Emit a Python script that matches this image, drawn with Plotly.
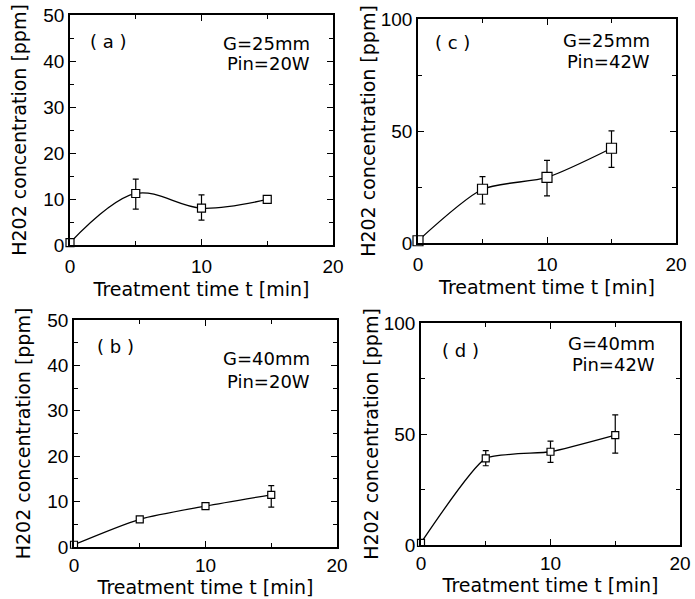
import plotly.graph_objects as go

# ---------------- data ----------------
t = [0, 5, 10, 15]

conc_a = [0.5, 11.2, 8.0, 9.9]
err_a_plus = [0, 3.1, 2.9, 0]
err_a_minus = [0, 3.4, 2.6, 0]

conc_b = [0.5, 6.1, 9.0, 11.5]
err_b_plus = [0, 0, 0, 2.0]
err_b_minus = [0, 0, 0, 2.7]

conc_c = [1.0, 24.0, 29.3, 42.3]
err_c_plus = [0, 5.6, 7.6, 7.8]
err_c_minus = [0, 6.6, 8.3, 8.5]

conc_d = [1.0, 39.0, 42.0, 49.5]
err_d_plus = [0, 3.5, 4.8, 9.1]
err_d_minus = [0, 3.3, 4.8, 8.1]

panel_labels = ["( a )", "( b )", "( c )", "( d )"]
gap_labels = ["G=25mm", "G=40mm", "G=25mm", "G=40mm"]
power_labels = ["Pin=20W", "Pin=20W", "Pin=42W", "Pin=42W"]
y_max = [50, 50, 100, 100]
x_title = "Treatment time t [min]"
y_title = "H202 concentration [ppm]"

# --------------- figure ---------------
W, H = 695, 599

def dom_x(a, b):
    return [a / W, b / W]

def dom_y(top, bot):
    return [1 - bot / H, 1 - top / H]

panels = [
    # (a)
    dict(x=dom_x(70, 333), y=dom_y(15, 245), c=conc_a, ep=err_a_plus, em=err_a_minus,
         msize=8, smooth=1.0, lab=(0.068, 0.883), g=(0.92, 0.878), p=(0.92, 0.787),
         ydt=10, ymin=5, ystand=12, tstand=3, xstand=7),
    # (b)
    dict(x=dom_x(74, 337), y=dom_y(320, 547), c=conc_b, ep=err_b_plus, em=err_b_minus,
         msize=7, smooth=0.7, lab=(0.08, 0.882), g=(0.904, 0.831), p=(0.904, 0.731),
         ydt=10, ymin=5, ystand=12, tstand=0, xstand=6),
    # (c)
    dict(x=dom_x(418, 676), y=dom_y(19, 243), c=conc_c, ep=err_c_plus, em=err_c_minus,
         msize=10, smooth=0.7, lab=(0.058, 0.894), g=(0.906, 0.906), p=(0.906, 0.809),
         ydt=50, ymin=25, ystand=0, tstand=3, xstand=7),
    # (d)
    dict(x=dom_x(421, 680), y=dom_y(323, 545), c=conc_d, ep=err_d_plus, em=err_d_minus,
         msize=7, smooth=0.5, lab=(0.073, 0.878), g=(0.91, 0.908), p=(0.91, 0.811),
         ydt=50, ymin=25, ystand=0, tstand=0, xstand=6),
]

TICKFONT = "Liberation Sans, Arial, sans-serif"
TEXTFONT = "DejaVu Sans, Verdana, sans-serif"
fig = go.Figure()
annotations = []

for i, pn in enumerate(panels):
    sfx = "" if i == 0 else str(i + 1)
    xa, ya = "x" + sfx, "y" + sfx
    fig.add_trace(go.Scatter(
        x=t, y=pn["c"], xaxis=xa, yaxis=ya,
        mode="lines+markers",
        line=dict(color="black", width=1.3, shape="spline", smoothing=pn["smooth"]),
        marker=dict(symbol="square", size=pn["msize"], color="white",
                    line=dict(color="black", width=1.2)),
        error_y=dict(type="data", symmetric=False, array=pn["ep"], arrayminus=pn["em"],
                     color="black", thickness=1.2, width=3),
        cliponaxis=False, showlegend=False, hoverinfo="skip",
    ))
    axis_common = dict(
        showline=True, linecolor="black", linewidth=1.5, mirror="allticks",
        ticks="inside", ticklen=6, tickwidth=1.2, tickcolor="black",
        showgrid=False, zeroline=False, automargin=False,
        tickfont=dict(family=TICKFONT, size=19, color="black"),
    )
    fig.layout["xaxis" + sfx] = dict(
        **axis_common, domain=pn["x"], anchor=ya, range=[0, 20], dtick=10, tick0=0,
        ticklabelstandoff=pn["tstand"],
        minor=dict(dtick=5, ticks="inside", ticklen=4, tickcolor="black", showgrid=False),
        title=dict(text=x_title, font=dict(family=TEXTFONT, size=19, color="black"),
                   standoff=pn["xstand"]),
    )
    fig.layout["yaxis" + sfx] = dict(
        **axis_common, domain=pn["y"], anchor=xa, range=[0, y_max[i]],
        dtick=pn["ydt"], tick0=0,
        minor=dict(dtick=pn["ymin"], ticks="inside", ticklen=4, tickcolor="black", showgrid=False),
        title=dict(text=y_title, font=dict(family=TEXTFONT, size=19, color="black"),
                   standoff=pn["ystand"]),
    )
    for txt, pos, anchor in ((panel_labels[i], pn["lab"], "left"),
                             (gap_labels[i], pn["g"], "right"),
                             (power_labels[i], pn["p"], "right")):
        annotations.append(dict(text=txt, xref=xa + " domain", yref=ya + " domain",
                                x=pos[0], y=pos[1], xanchor=anchor, yanchor="middle",
                                showarrow=False, font=dict(family=TEXTFONT, size=18, color="black")))

fig.update_layout(
    width=W, height=H, margin=dict(l=0, r=0, t=0, b=0),
    paper_bgcolor="white", plot_bgcolor="white",
    annotations=annotations, showlegend=False,
    font=dict(family=TICKFONT, color="black"),
)

fig.write_html("out.html", config={"displayModeBar": False},
               post_script="document.body.style.margin='0';document.body.style.overflow='hidden';")
